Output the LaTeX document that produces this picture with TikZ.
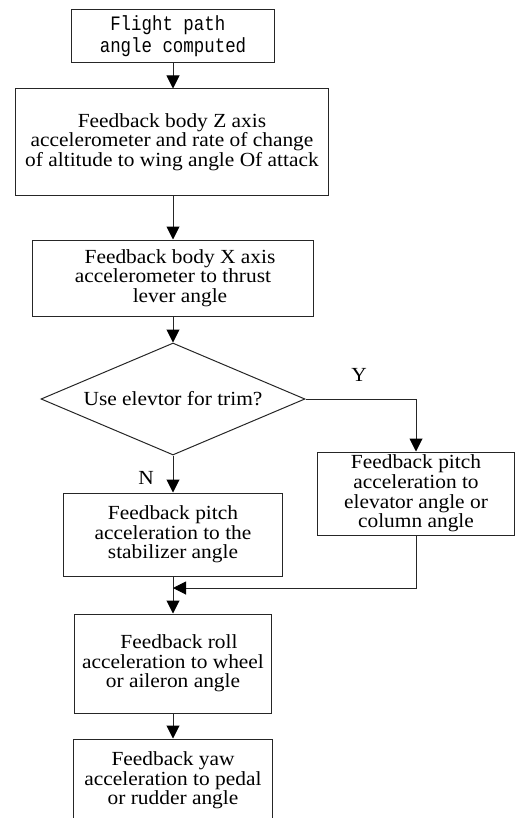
\documentclass[tikz,border=0pt]{standalone}
\usepackage{fontspec}
\setmainfont[FakeStretch=1.07]{Liberation Serif}
\newfontfamily\monof[FakeStretch=0.85]{Liberation Mono}
\usetikzlibrary{arrows.meta,shapes.geometric}
\begin{document}
\begin{tikzpicture}[x=1bp,y=-1bp,
  txt/.style={font=\fontsize{20bp}{19.6bp}\selectfont},
  box/.style={txt,draw=black!85,line width=1bp,rectangle,inner sep=0pt,align=center},
  decision/.style={txt,draw=black!85,line width=1bp,diamond,aspect=2.36,inner sep=0pt,minimum width=264bp,minimum height=112bp},
  arr/.style={draw=black!85,line width=1bp,-{Triangle[width=13bp,length=13bp,color=black]}},
  lbl/.style={txt,inner sep=0pt}]
\useasboundingbox (0,0) rectangle (515,818);
\clip (0,0) rectangle (515,818);
\node[box,font=\monof\fontsize{20.5bp}{22bp}\selectfont,minimum width=202bp,minimum height=52bp] (b1) at (173,36) {Flight path\hphantom{x}\\angle computed};
\node[box,minimum width=312bp,minimum height=106bp] (b2) at (172,142) {Feedback body Z axis\\accelerometer and rate of change\\of altitude to wing angle Of attack};
\node[box,minimum width=280bp,minimum height=76bp] (b3) at (173,278) {\hspace*{14bp}Feedback body X axis\\accelerometer to thrust\\\hspace*{14bp}lever angle};
\node[decision] (d) at (173,399) {Use elevtor for trim?};
\node[box,minimum width=197bp,minimum height=83bp] (r) at (416,493.5) {Feedback pitch\\acceleration to\\elevator angle or\\column angle};
\node[box,minimum width=218bp,minimum height=83bp] (b4) at (173,534.5) {Feedback pitch\\acceleration to the\\stabilizer angle};
\node[box,minimum width=196bp,minimum height=99bp] (b5) at (173,663.5) {\hspace*{12bp}Feedback roll\\acceleration to wheel\\or aileron angle};
\node[box,minimum width=198bp,minimum height=83bp] (b6) at (173,780.5) {Feedback yaw\\acceleration to pedal\\or rudder angle};
\node[lbl] (y) at (359,375) {Y};
\node[lbl] (n) at (146,478) {N};
\coordinate (m) at (173,588);
\draw[arr] (b1.south) -- (b2.north -| b1.south);
\draw[arr] (b2.south -| b1.south) -- (b3.north);
\draw[arr] (b3.south) -- (d.north);
\draw[arr] (d.east) -| (r.north);
\draw[arr] (d.south) -- (b4.north);
\draw[arr] (b4.south) -- (b5.north);
\draw[arr] (r.south) |- (m);
\draw[arr] (b5.south) -- (b6.north);
\end{tikzpicture}
\end{document}
